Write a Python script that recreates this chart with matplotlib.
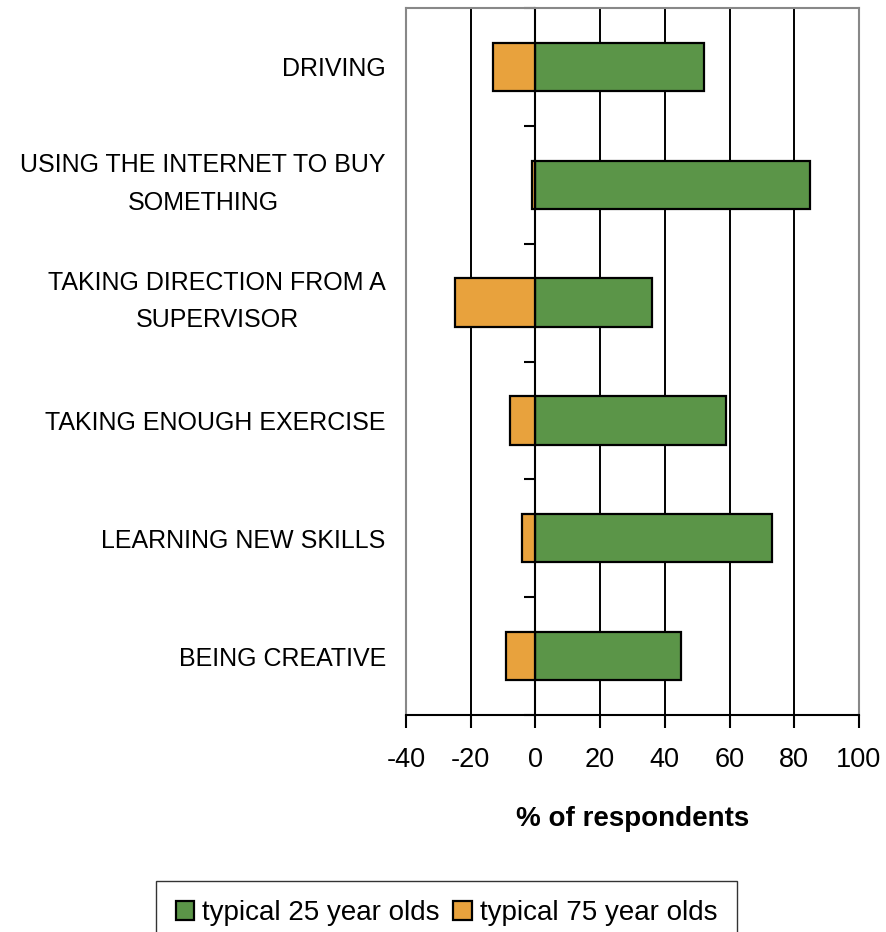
import matplotlib.pyplot as plt
import matplotlib.transforms as mtransforms
import numpy as np

plt.rcParams['font.family'] = ['Liberation Sans', 'DejaVu Sans']

categories = [
    'DRIVING',
    'USING THE INTERNET TO BUY\nSOMETHING',
    'TAKING DIRECTION FROM A\nSUPERVISOR',
    'TAKING ENOUGH EXERCISE',
    'LEARNING NEW SKILLS',
    'BEING CREATIVE',
]
age_25 = [52, 85, 36, 59, 73, 45]
age_75 = [-13, -1, -25, -8, -4, -9]
x_ticks = [-40, -20, 0, 20, 40, 60, 80, 100]

green = '#5B9548'
orange = '#E8A23D'

fig = plt.figure(figsize=(8.86, 9.32), dpi=100)
ax = fig.add_axes([0.4582, 0.2328, 0.5113, 0.7586])

y = np.arange(len(categories))
xmin, xmax = x_ticks[0], x_ticks[-1]

# gridlines (black, as in the original)
for xv in x_ticks[1:-1]:
    if xv != 0:
        ax.axvline(xv, color='black', linewidth=1.4, zorder=0)

ax.barh(y, age_25, height=0.41, color=green, edgecolor='black',
        linewidth=1.6, label='typical 25 year olds', zorder=2)
ax.barh(y, age_75, height=0.41, color=orange, edgecolor='black',
        linewidth=1.6, label='typical 75 year olds', zorder=2)

ax.set_xlim(xmin, xmax)
ax.set_ylim(len(categories) - 0.5, -0.5)

ax.set_xticks(x_ticks)
ax.set_xticklabels([str(v) for v in x_ticks], fontsize=19.5)
ax.tick_params(axis='x', direction='out', length=9, width=1.5, pad=14)

ax.set_yticks(y)
ax.set_yticklabels(categories, fontsize=18, multialignment='center',
                   linespacing=1.7)
ax.tick_params(axis='y', length=0, pad=14.5)

# two-line labels sit a little high in the original
shift_up = mtransforms.ScaledTranslation(0, 10 / 100, fig.dpi_scale_trans)
for lbl in ax.get_yticklabels():
    if '\n' in lbl.get_text():
        lbl.set_transform(lbl.get_transform() + shift_up)

for side in ['top', 'left', 'right']:
    ax.spines[side].set_color('#888888')
    ax.spines[side].set_linewidth(1.5)
ax.spines['bottom'].set_color('black')
ax.spines['bottom'].set_linewidth(1.5)

# category axis crossing at zero
zero_pos = (0 - xmin) / (xmax - xmin)
sec = ax.secondary_yaxis(zero_pos)
sec.set_yticks(np.arange(len(categories) + 1) - 0.5)
sec.set_yticklabels([])
sec.tick_params(axis='y', direction='out', length=8, width=1.5)
sec.spines['left'].set_color('black')
sec.spines['left'].set_linewidth(1.5)

ax.set_xlabel('% of respondents', fontsize=20, fontweight='bold', labelpad=24)

fig.legend(loc='upper center', bbox_to_anchor=(0.504, 0.0547), ncol=2,
           fontsize=20, frameon=True, fancybox=False, edgecolor='black',
           handlelength=0.65, handleheight=0.65, handletextpad=0.3,
           columnspacing=0.5, borderpad=0.7, borderaxespad=0)

fig.savefig('out.png', dpi=100)
